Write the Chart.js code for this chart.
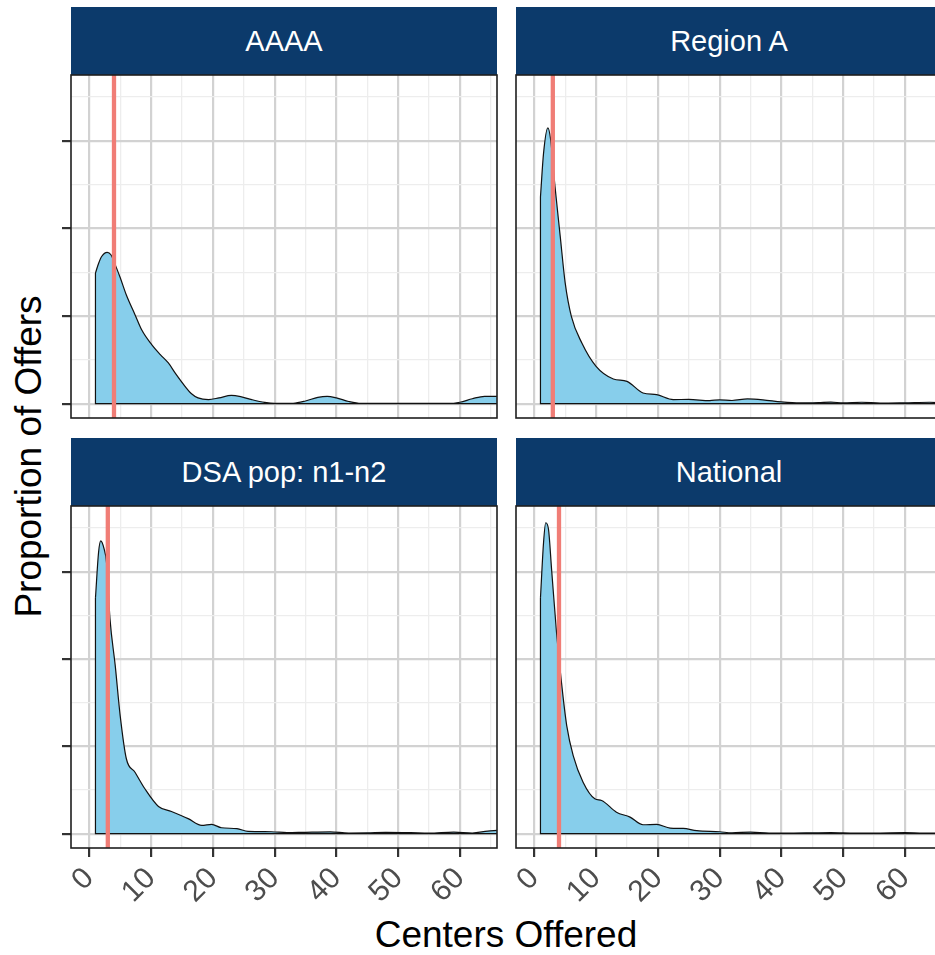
<!DOCTYPE html>
<html>
<head>
<meta charset="utf-8">
<script src="https://cdn.jsdelivr.net/npm/chart.js@4/dist/chart.umd.min.js"></script>
<style>
html,body{margin:0;padding:0;background:#ffffff;overflow:hidden;}
#wrap{position:relative;width:935px;height:955px;overflow:hidden;background:#fff;font-family:"Liberation Sans",Arial,Helvetica,sans-serif;}
.strip{position:absolute;background:#0C3A6B;color:#ffffff;font-size:29px;display:flex;align-items:center;justify-content:center;white-space:nowrap;}
canvas{position:absolute;}
#xtitle{position:absolute;left:306px;width:400px;top:916px;font-size:37px;line-height:37px;text-align:center;color:#000;white-space:nowrap;}
#ytitle{position:absolute;width:600px;height:37px;font-size:37px;line-height:37px;text-align:center;color:#000;white-space:nowrap;left:-272px;top:438px;transform:rotate(-90deg);transform-origin:50% 50%;}
</style>
</head>
<body>
<div id="wrap">
  <div id="xtitle">Centers Offered</div>
  <div id="ytitle">Proportion of Offers</div>
</div>
<script>
// ---------------- data ----------------
const panelNames = ['AAAA', 'Region A', 'DSA pop: n1-n2', 'National'];
const medians = [4, 3, 3, 4];

const aaaaX = [1, 1.5, 2, 2.9, 3.5, 4.4, 5, 6, 7.4, 8.5, 10.1, 11.5, 12.8, 14, 15.5, 16.5, 17.6, 19.3, 21, 23, 24.5, 26.3, 28.4, 30, 33, 35, 37, 38.5, 40, 42, 44, 58, 60, 62, 64, 66];
const aaaaY = [0.0746, 0.080, 0.084, 0.0864, 0.085, 0.0775, 0.072, 0.062, 0.0508, 0.042, 0.0337, 0.028, 0.0232, 0.017, 0.0099, 0.0058, 0.0033, 0.0023, 0.0033, 0.0047, 0.0040, 0.0023, 0.0007, 0.0001, 0.0002, 0.0015, 0.0036, 0.0042, 0.0033, 0.0012, 0.0001, 0.0001, 0.0008, 0.0028, 0.0042, 0.0042];

const regionX = [1, 1.5, 2.2, 2.65, 3.35, 4.2, 5, 6, 7.7, 10, 12.8, 15, 17.6, 19.8, 22.5, 25, 28.4, 30, 32, 34.5, 37, 40, 43, 46, 48, 50, 53, 56, 60, 64, 66];
const regionY = [0.118, 0.143, 0.1574, 0.1507, 0.124, 0.0955, 0.0689, 0.0498, 0.0346, 0.0213, 0.0141, 0.0127, 0.0061, 0.0051, 0.0023, 0.0024, 0.0017, 0.0022, 0.0018, 0.0027, 0.0022, 0.0010, 0.0004, 0.0006, 0.0009, 0.0004, 0.0008, 0.0003, 0.0005, 0.0008, 0.0005];

const dsaX = [1, 1.5, 1.85, 2.4, 2.8, 3.35, 4.2, 5, 6, 7.4, 9, 11.2, 13.3, 16, 18.2, 19.8, 21.4, 23.9, 25.7, 29.5, 32, 35, 39, 42, 45, 48, 52, 55, 59, 62, 64.5, 66];
const dsaY = [0.135, 0.161, 0.1676, 0.163, 0.155, 0.123, 0.0962, 0.0676, 0.0429, 0.0352, 0.0257, 0.0156, 0.0127, 0.0086, 0.0047, 0.0053, 0.0034, 0.0029, 0.0013, 0.0011, 0.0006, 0.0008, 0.0010, 0.0004, 0.0005, 0.0008, 0.0006, 0.0003, 0.0009, 0.0004, 0.0015, 0.0019];

const nationalX = [1, 1.5, 1.85, 2.3, 2.8, 3.6, 4.4, 5.25, 6.3, 7.9, 9.8, 10.9, 13.3, 15.5, 17.6, 19.8, 22, 24.1, 26.3, 30, 32, 35, 38, 42, 45, 48, 52, 56, 60, 63, 66];
const nationalY = [0.135, 0.1667, 0.178, 0.1743, 0.1514, 0.1152, 0.0866, 0.0619, 0.0447, 0.0295, 0.0200, 0.0190, 0.0123, 0.0095, 0.0051, 0.0053, 0.0032, 0.0030, 0.0017, 0.0011, 0.0005, 0.0009, 0.0004, 0.0004, 0.0005, 0.0006, 0.0003, 0.0004, 0.0006, 0.0003, 0.0004];

const xMajorTicks = [0, 10, 20, 30, 40, 50, 60];
const xMinorTicks = [5, 15, 25, 35, 45, 55, 65];
const xTickLabels = ['0', '10', '20', '30', '40', '50', '60'];
const yMajorTicks = [0, 0.05, 0.10, 0.15];
const yMinorTicks = [0.025, 0.075, 0.125, 0.175];
const xLimits = [-2.96, 66];
const yLimits = [-0.0082, 0.1876];

// ---------------- layout / style ----------------
const FONT = '"Liberation Sans", Arial, Helvetica, sans-serif';
const panels = [
  {name: panelNames[0], xs: aaaaX, ys: aaaaY, median: medians[0], cv: {l: 0, t: 70, w: 505, h: 360}, area: {l: 71, t: 75, r: 497, b: 418}, strip: {t: 7}, showY: true, showX: false},
  {name: panelNames[1], xs: regionX, ys: regionY, median: medians[1], cv: {l: 505, t: 70, w: 445, h: 360}, area: {l: 516, t: 75, r: 942, b: 418}, strip: {t: 7}, showY: false, showX: false},
  {name: panelNames[2], xs: dsaX, ys: dsaY, median: medians[2], cv: {l: 0, t: 501, w: 505, h: 454}, area: {l: 71, t: 506, r: 497, b: 848}, strip: {t: 438}, showY: true, showX: true},
  {name: panelNames[3], xs: nationalX, ys: nationalY, median: medians[3], cv: {l: 505, t: 501, w: 445, h: 454}, area: {l: 516, t: 506, r: 942, b: 848}, strip: {t: 438}, showY: false, showX: true}
];

const TICK_LEN = 9;
const X_AXIS_H = 70;
const isIn = (arr, v) => arr.some(a => Math.abs(a - v) < 1e-9);

const borderPlugin = {
  id: 'panelBorder',
  afterDraw(chart) {
    const a = chart.chartArea, ctx = chart.ctx;
    ctx.save();
    ctx.strokeStyle = '#1f1f1f';
    ctx.lineWidth = 1.6;
    ctx.strokeRect(a.left, a.top, a.right - a.left, a.bottom - a.top);
    ctx.restore();
  }
};

const wrap = document.getElementById('wrap');

panels.forEach(p => {
  // strip
  const s = document.createElement('div');
  s.className = 'strip';
  s.style.left = p.area.l + 'px';
  s.style.top = p.strip.t + 'px';
  s.style.width = (p.area.r - p.area.l) + 'px';
  s.style.height = (p.area.t - p.strip.t) + 'px';
  s.textContent = p.name;
  wrap.appendChild(s);

  const c = document.createElement('canvas');
  c.width = p.cv.w; c.height = p.cv.h;
  c.style.left = p.cv.l + 'px'; c.style.top = p.cv.t + 'px';
  c.style.width = p.cv.w + 'px'; c.style.height = p.cv.h + 'px';
  wrap.appendChild(c);

  const yW = p.showY ? TICK_LEN : 0;
  const xH = p.showX ? X_AXIS_H : 0;
  const pad = {
    left: p.area.l - p.cv.l - yW,
    top: p.area.t - p.cv.t,
    right: p.cv.l + p.cv.w - p.area.r,
    bottom: p.cv.t + p.cv.h - p.area.b - xH
  };

  const n = p.xs.length;
  const curve = p.xs.map((x, i) => ({x: x, y: p.ys[i]}));
  const outline = [{x: p.xs[n - 1], y: 0}, {x: p.xs[0], y: 0}, {x: p.xs[0], y: p.ys[0]}];
  const vline = [{x: p.median, y: yLimits[0]}, {x: p.median, y: yLimits[1]}];

  new Chart(c, {
    type: 'line',
    data: {
      datasets: [
        {data: vline, borderColor: '#F07D76', borderWidth: 4.3, pointRadius: 0, fill: false, tension: 0, order: 0},
        {data: outline, borderColor: '#111111', borderWidth: 1.2, pointRadius: 0, fill: false, tension: 0, order: 0.5},
        {data: curve, borderColor: '#111111', borderWidth: 1.2, backgroundColor: '#87CEEB', fill: 'origin', pointRadius: 0, cubicInterpolationMode: 'monotone', order: 1}
      ]
    },
    options: {
      responsive: false,
      animation: false,
      events: [],
      layout: {padding: pad},
      plugins: {legend: {display: false}, tooltip: {enabled: false}, title: {display: false}},
      scales: {
        x: {
          type: 'linear',
          min: xLimits[0], max: xLimits[1],
          afterBuildTicks: s => { s.ticks = xMajorTicks.concat(xMinorTicks).sort((a, b) => a - b).map(v => ({value: v})); },
          afterFit: s => { s.height = xH; s.paddingLeft = 0; s.paddingRight = 0; },
          border: {display: false},
          grid: {
            drawTicks: true,
            tickLength: TICK_LEN,
            color: ctx => isIn(xMajorTicks, ctx.tick.value) ? '#D2D2D2' : '#EDEDED',
            lineWidth: ctx => isIn(xMajorTicks, ctx.tick.value) ? 2.2 : 1.3,
            tickColor: ctx => (p.showX && isIn(xMajorTicks, ctx.tick.value)) ? '#333333' : 'rgba(0,0,0,0)',
            tickWidth: 2.2
          },
          ticks: {
            display: p.showX,
            autoSkip: false,
            minRotation: 45, maxRotation: 45,
            padding: 4,
            color: '#4D4D4D',
            font: {family: FONT, size: 30},
            callback: v => { const i = xMajorTicks.findIndex(m => Math.abs(m - v) < 1e-9); return i >= 0 ? xTickLabels[i] : ''; }
          }
        },
        y: {
          type: 'linear',
          min: yLimits[0], max: yLimits[1],
          afterBuildTicks: s => { s.ticks = yMajorTicks.concat(yMinorTicks).sort((a, b) => a - b).map(v => ({value: v})); },
          afterFit: s => { s.width = yW; s.paddingTop = 0; s.paddingBottom = 0; },
          border: {display: false},
          grid: {
            drawTicks: true,
            tickLength: TICK_LEN,
            color: ctx => isIn(yMajorTicks, ctx.tick.value) ? '#D2D2D2' : '#EDEDED',
            lineWidth: ctx => isIn(yMajorTicks, ctx.tick.value) ? 2.2 : 1.3,
            tickColor: ctx => (p.showY && isIn(yMajorTicks, ctx.tick.value)) ? '#333333' : 'rgba(0,0,0,0)',
            tickWidth: 2.2
          },
          ticks: {display: false, callback: () => ''}
        }
      }
    },
    plugins: [borderPlugin]
  });
});
</script>
</body>
</html>
